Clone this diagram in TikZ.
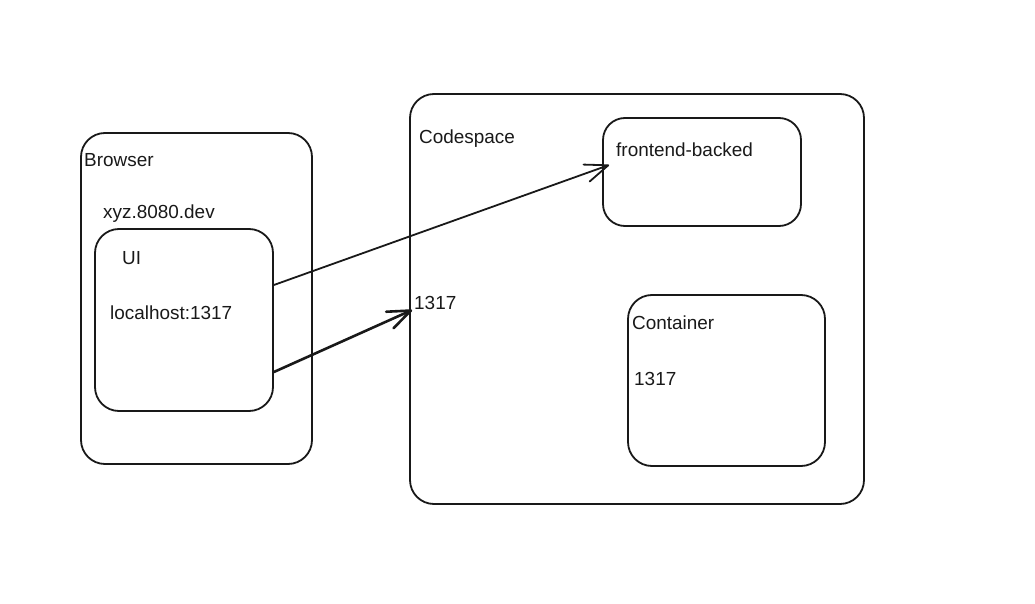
\documentclass[tikz,border=0pt]{standalone}
\usepackage{fontspec}
\setmainfont{Liberation Sans}
\usetikzlibrary{arrows.meta,calc}
\tikzset{
  box/.style={draw=black!90, line width=1.8bp, rounded corners=24bp, inner sep=0pt},
  lbl/.style={anchor=west, inner sep=0pt, font=\fontsize{19}{22}\selectfont, text=black!90},
  conn/.style={draw=black!90, line width=1.8bp, line cap=round,
    -{Straight Barb[length=23bp,width=18bp,round]}},
}
\begin{document}
\begin{tikzpicture}[x=1bp,y=-1bp]
\useasboundingbox (0,0) rectangle (1035,604);
% boxes
\node[box, minimum width=231bp, minimum height=331bp] (browser) at (196.5,298.5) {};
\node[box, minimum width=178bp, minimum height=182bp] (ui) at (184,320) {};
\node[box, minimum width=454bp, minimum height=410bp] (cs) at (637,299) {};
\node[box, minimum width=198bp, minimum height=108bp, rounded corners=22bp] (fe) at (702,172) {};
\node[box, minimum width=197bp, minimum height=171bp] (ct) at (726.5,380.5) {};
% labels
\node[lbl] (tbrowser) at (84,160) {Browser};
\node[lbl] (txyz) at (103,214) {xyz.8080.dev};
\node[lbl] (tui) at (122,258) {UI};
\node[lbl] (tlocal) at (110,313) {localhost:1317};
\node[lbl] (tcs) at (419,139) {Codespace};
\node[lbl] (tfe) at (616,150) {frontend-backed};
\node[lbl] (tport) at (414,303) {1317};
\node[lbl] (tct) at (632,323) {Container};
\node[lbl] (tctport) at (634,379) {1317};
% connectors
\coordinate (a1s) at ($(ui.east)+(0,-35)$);
\coordinate (a1e) at ($(fe.west)+(7,-7)$);
\coordinate (a2s) at ($(ui.east)+(0,52)$);
\coordinate (a2e) at ($(cs.west)+(3,11)$);
\draw[conn] (a1s) -- (a1e);
\draw[conn, line width=2.6bp] (a2s) -- (a2e);
\end{tikzpicture}
\end{document}
